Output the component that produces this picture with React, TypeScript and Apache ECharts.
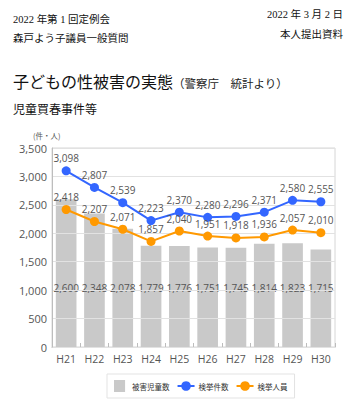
import React, { useEffect, useRef } from "react";
import * as echarts from "echarts";

const categories = ["H21", "H22", "H23", "H24", "H25", "H26", "H27", "H28", "H29", "H30"];
const victims = [2600, 2348, 2078, 1779, 1776, 1751, 1745, 1814, 1823, 1715];
const cases = [3098, 2807, 2539, 2223, 2370, 2280, 2296, 2371, 2580, 2555];
const persons = [2418, 2207, 2071, 1857, 2040, 1951, 1918, 1936, 2057, 2010];
const seriesNames = ["被害児童数", "検挙件数", "検挙人員"];

const fmt = (v: number) => Number(v).toLocaleString("en-US");
const SANS = "'Noto Sans CJK JP', 'Noto Sans', sans-serif";
const NUM = "'Open Sans', 'Noto Sans', sans-serif";
const SERIF = "'Liberation Serif', 'Noto Sans CJK JP', serif";

export default function App() {
  const ref = useRef<HTMLDivElement>(null);
  useEffect(() => {
    if (!ref.current) return;
    const chart = echarts.init(ref.current, undefined, { renderer: "svg" });
    chart.setOption({
      animation: false,
      backgroundColor: "#ffffff",
      textStyle: { fontFamily: SANS },
      graphic: [
        { type: "text", left: 13, top: 14, style: { text: "2022 年第 1 回定例会", font: `10.5px ${SERIF}`, fill: "#111" } },
        { type: "text", left: 13, top: 33, style: { text: "森戸よう子議員一般質問", font: `10.5px ${SERIF}`, fill: "#111" } },
        { type: "text", right: 12, top: 9, style: { text: "2022 年 3 月 2 日", font: `10.5px ${SERIF}`, fill: "#111" } },
        { type: "text", right: 12, top: 29, style: { text: "本人提出資料", font: `10.5px ${SERIF}`, fill: "#111" } },
        {
          type: "text",
          left: 13,
          top: 73,
          style: {
            text: "{a|子どもの性被害の実態}{b|（警察庁　統計より）}",
            rich: {
              a: { fontSize: 16, fontFamily: SANS, fill: "#111", verticalAlign: "bottom" },
              b: { fontSize: 11.5, fontFamily: SANS, fill: "#222", verticalAlign: "bottom" },
            },
          },
        },
        { type: "text", left: 13, top: 102, style: { text: "児童買春事件等", font: `12px ${SANS}`, fill: "#111" } },
        { type: "text", left: 33, top: 132, style: { text: "(件・人)", font: `7.5px ${SANS}`, fill: "#555" } },
      ],
      legend: {
        left: 107,
        top: 374,
        width: 180,
        padding: [6, 7],
        borderColor: "#e3e3e3",
        borderWidth: 1,
        itemWidth: 17,
        itemHeight: 12,
        itemGap: 7,
        textStyle: { fontSize: 7.5, color: "#333", fontFamily: SANS, padding: [0, 0, 0, -1] },
        data: [
          { name: seriesNames[0], icon: "path://M0,0h12v13h-12z" },
          { name: seriesNames[1] },
          { name: seriesNames[2] },
        ],
      },
      grid: { left: 52, right: 20, top: 148, bottom: 70, show: true, borderColor: "#d6d6d6", borderWidth: 1 },
      xAxis: {
        type: "category",
        data: categories,
        boundaryGap: true,
        axisLine: { lineStyle: { color: "#bdbdbd" } },
        axisTick: { show: true, inside: true, length: 4, lineStyle: { color: "#bdbdbd" } },
        axisLabel: { color: "#555", fontSize: 10.5, fontFamily: NUM, margin: 6 },
      },
      yAxis: {
        type: "value",
        min: 0,
        max: 3500,
        interval: 500,
        z: 3,
        axisLine: { show: true, lineStyle: { color: "#bdbdbd" } },
        axisTick: { show: false },
        axisLabel: { color: "#555", fontSize: 11, fontFamily: NUM, margin: 5, formatter: (v: number) => fmt(v) },
        splitLine: { lineStyle: { color: "#e2e2e2" } },
      },
      series: [
        {
          name: seriesNames[0],
          type: "bar",
          data: victims,
          barWidth: "73%",
          itemStyle: { color: "#c9c9c9" },
          label: {
            show: true,
            position: "insideBottom",
            distance: 54,
            color: "#555",
            fontSize: 10,
            fontFamily: NUM,
            formatter: (p: any) => fmt(p.value),
          },
          z: 2,
        },
        {
          name: seriesNames[1],
          type: "line",
          data: cases,
          symbol: "circle",
          symbolSize: 9,
          itemStyle: { color: "#3366ff" },
          lineStyle: { color: "#3366ff", width: 2 },
          label: { show: true, position: "top", distance: 3, color: "#555", fontSize: 10, fontFamily: NUM, formatter: (p: any) => fmt(p.value) },
          z: 5,
        },
        {
          name: seriesNames[2],
          type: "line",
          data: persons,
          symbol: "circle",
          symbolSize: 9,
          itemStyle: { color: "#ff9900" },
          lineStyle: { color: "#ff9900", width: 2 },
          label: { show: true, position: "top", distance: 3, color: "#555", fontSize: 10, fontFamily: NUM, formatter: (p: any) => fmt(p.value) },
          z: 5,
        },
      ],
    });
    return () => chart.dispose();
  }, []);
  return <div ref={ref} style={{ position: "absolute", left: 0, top: 0, width: 355, height: 417 }} />;
}
